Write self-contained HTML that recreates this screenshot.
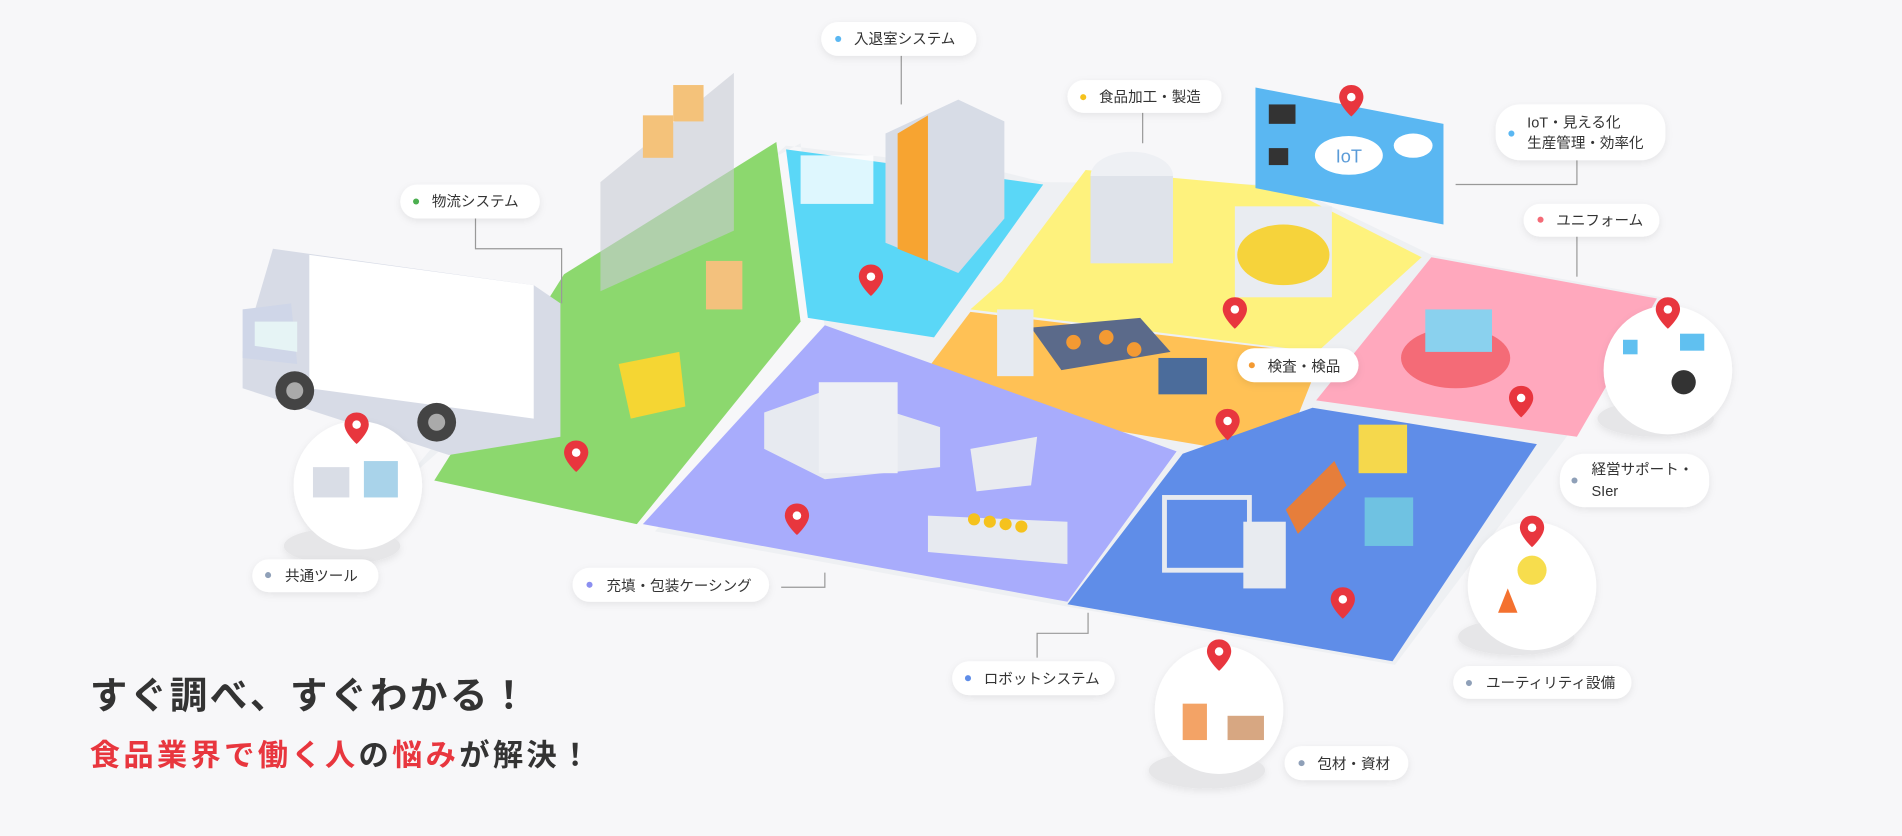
<!DOCTYPE html>
<html><head><meta charset="utf-8"><style>
html,body{margin:0;padding:0;background:#f7f7f9;}
svg{display:block}
text{font-family:"Liberation Sans","Noto Sans CJK JP",sans-serif;}
</style></head><body>
<svg width="1902" height="836" viewBox="0 0 1568 689" xmlns="http://www.w3.org/2000/svg">
<defs>
<filter id="sh" x="-20%" y="-30%" width="140%" height="160%"><feDropShadow dx="0" dy="2" stdDeviation="3" flood-color="#000" flood-opacity="0.08"/></filter>
<g id="pin"><path d="M0,0 c-6,0 -10,4.5 -10,10 c0,7 10,16 10,16 c0,0 10,-9 10,-16 c0,-5.5 -4,-10 -10,-10z" fill="#e8363e"/><circle cx="0" cy="10" r="3.5" fill="#fff"/></g>
</defs>
<rect width="1568" height="689" fill="#f7f7f9"/>
<polygon points="330,400 490,210 660,118 680,270 540,438 880,500 1150,548 1290,362 1370,245 1180,210 1060,152 860,150 820,140 648,120" fill="#eef0f3"/>
<polygon points="358,396 465,226 640,117 660,265 525,432" fill="#8cd86e"/>
<polygon points="648,123 860,152 770,278 666,262" fill="#5ad7f7"/>
<polygon points="826,232 895,140 1060,155 1172,212 1086,290 800,255" fill="#fef27d"/>
<polygon points="748,326 800,257 1090,292 1056,378" fill="#ffc155"/>
<polygon points="1085,330 1180,212 1366,246 1300,360" fill="#ffa8bd"/>
<polygon points="530,432 680,268 970,372 880,496" fill="#a8acfc"/>
<polygon points="880,498 975,374 1082,336 1267,366 1148,545" fill="#5f8de8"/>
<polygon points="1035,72 1190,102 1190,185 1035,155" fill="#5ab7f2"/>
<ellipse cx="1112" cy="128" rx="28" ry="16" fill="#fff"/>
<text x="1112" y="134" font-size="15" fill="#5a9bd8" text-anchor="middle">IoT</text>
<rect x="1046" y="86" width="22" height="16" fill="#333"/><rect x="1046" y="122" width="16" height="14" fill="#333"/>
<ellipse cx="1165" cy="120" rx="16" ry="10" fill="#fff"/>
<polygon points="200,290 225,205 440,235 462,250 462,360 370,375 200,320" fill="#d7dbe6"/>
<polygon points="255,210 440,235 440,345 255,320" fill="#fff"/>
<polygon points="200,255 240,250 245,300 200,295" fill="#cfd6e8"/>
<polygon points="210,265 245,265 245,290 210,285" fill="#e6f4f5"/>
<circle cx="243" cy="322" r="16" fill="#444"/><circle cx="243" cy="322" r="7" fill="#aaa"/>
<circle cx="360" cy="348" r="16" fill="#444"/><circle cx="360" cy="348" r="7" fill="#aaa"/>
<polygon points="495,150 605,60 605,190 495,240" fill="#c8cbd3" opacity=".6"/>
<rect x="530" y="95" width="25" height="35" fill="#f4c27a"/><rect x="555" y="70" width="25" height="30" fill="#f4c27a"/>
<polygon points="510,300 560,290 565,335 520,345" fill="#f5d633"/>
<rect x="582" y="215" width="30" height="40" fill="#f3c17d"/>
<polygon points="730,110 790,82 828,100 828,180 790,225 730,200" fill="#d7dce6"/>
<polygon points="740,110 765,95 765,215 740,205" fill="#f7a431"/>
<rect x="660" y="128" width="60" height="40" fill="#fff" opacity=".8"/>
<ellipse cx="933" cy="145" rx="34" ry="20" fill="#eef0f4"/>
<rect x="899" y="145" width="68" height="72" fill="#dfe3ea"/>
<rect x="1018" y="170" width="80" height="75" fill="#e9ecf1"/>
<ellipse cx="1058" cy="210" rx="38" ry="25" fill="#f6d33b"/>
<polygon points="850,270 940,262 965,290 875,305" fill="#5b6a8a"/>
<circle cx="885" cy="282" r="6" fill="#f39a33"/><circle cx="912" cy="278" r="6" fill="#f39a33"/><circle cx="935" cy="288" r="6" fill="#f39a33"/>
<rect x="822" y="255" width="30" height="55" fill="#e6eaf0"/>
<rect x="955" y="295" width="40" height="30" fill="#4b6c9b"/>
<polygon points="630,340 680,322 775,352 775,385 680,395 630,370" fill="#e7eaf0"/>
<rect x="675" y="315" width="65" height="75" fill="#eef0f4"/>
<polygon points="765,425 880,430 880,465 765,455" fill="#e7eaf0"/>
<polygon points="800,370 855,360 850,400 805,405" fill="#e9ebf0"/>
<circle cx="803" cy="428" r="5" fill="#f5c21d"/><circle cx="816" cy="430" r="5" fill="#f5c21d"/><circle cx="829" cy="432" r="5" fill="#f5c21d"/><circle cx="842" cy="434" r="5" fill="#f5c21d"/>
<rect x="960" y="410" width="70" height="60" fill="none" stroke="#e7eaf0" stroke-width="4"/>
<rect x="1025" y="430" width="35" height="55" fill="#e8ebf0"/>
<polygon points="1060,420 1100,380 1110,400 1070,440" fill="#e67e3b"/>
<rect x="1120" y="350" width="40" height="40" fill="#f5d84c"/>
<rect x="1125" y="410" width="40" height="40" fill="#6fc2e2"/>
<ellipse cx="1200" cy="295" rx="45" ry="25" fill="#f46b77"/>
<rect x="1175" y="255" width="55" height="35" fill="#8ad1ee"/>
<g filter="url(#sh)">
<ellipse cx="282" cy="450" rx="48" ry="15" fill="#e6e6e8"/>
<circle cx="295" cy="400" r="53" fill="#fff"/>
<ellipse cx="1365" cy="345" rx="48" ry="15" fill="#e6e6e8"/>
<circle cx="1375" cy="305" r="53" fill="#fff"/>
<ellipse cx="1250" cy="525" rx="48" ry="15" fill="#e6e6e8"/>
<circle cx="1263" cy="483" r="53" fill="#fff"/>
<ellipse cx="995" cy="635" rx="48" ry="15" fill="#e6e6e8"/>
<circle cx="1005" cy="585" r="53" fill="#fff"/>
</g>
<rect x="258" y="385" width="30" height="25" fill="#d9dde6"/><rect x="300" y="380" width="28" height="30" fill="#a9d3ea"/>
<circle cx="1263" cy="470" r="12" fill="#f7dd4d"/><path d="M1235,505 l8,-20 l8,20z" fill="#f4712f"/>
<rect x="975" y="580" width="20" height="30" fill="#f3a366"/><rect x="1012" y="590" width="30" height="20" fill="#d7a782"/>
<circle cx="1388" cy="315" r="10" fill="#333"/><rect x="1338" y="280" width="12" height="12" fill="#60c0f0"/><rect x="1385" y="275" width="20" height="14" fill="#60c0f0"/>
<use href="#pin" x="1114" y="70"/><use href="#pin" x="718" y="218"/><use href="#pin" x="1018" y="245"/>
<use href="#pin" x="1375" y="245"/><use href="#pin" x="1254" y="318"/><use href="#pin" x="1012" y="337"/>
<use href="#pin" x="475" y="363"/><use href="#pin" x="294" y="340"/><use href="#pin" x="657" y="415"/>
<use href="#pin" x="1107" y="484"/><use href="#pin" x="1263" y="425"/><use href="#pin" x="1005" y="527"/>
<g stroke="#999" stroke-width="1" fill="none">
<path d="M743,45 V86"/><path d="M392,180 V205 H463 V250"/><path d="M942,92 V118"/>
<path d="M1300,132 V152 H1200"/><path d="M1300,195 V228"/><path d="M644,484 H680 V472"/>
<path d="M855,542 V522 H897 V505"/>
</g>
<g filter="url(#sh)" fill="#fff">
<rect x="677" y="18" width="128" height="28" rx="14"/>
<rect x="330" y="152" width="115" height="28" rx="14"/>
<rect x="880" y="66" width="127" height="27" rx="13.5"/>
<rect x="1233" y="86" width="140" height="46" rx="20"/>
<rect x="1256" y="168" width="112" height="27" rx="13.5"/>
<rect x="1020" y="287" width="100" height="28" rx="14"/>
<rect x="1286" y="374" width="123" height="44" rx="20"/>
<rect x="208" y="461" width="104" height="27" rx="13.5"/>
<rect x="472" y="468" width="162" height="28" rx="14"/>
<rect x="785" y="545" width="134" height="28" rx="14"/>
<rect x="1198" y="549" width="147" height="27" rx="13.5"/>
<rect x="1059" y="615" width="102" height="28" rx="14"/>
</g>
<g font-size="12" fill="#333">
<circle cx="691" cy="32" r="2.5" fill="#5ab7f2"/><text x="704" y="36">入退室システム</text>
<circle cx="343" cy="166" r="2.5" fill="#4caf50"/><text x="356" y="170">物流システム</text>
<circle cx="893" cy="80" r="2.5" fill="#f5c21d"/><text x="906" y="84">食品加工・製造</text>
<circle cx="1246" cy="110" r="2.5" fill="#5ab7f2"/><text x="1259" y="105">IoT・見える化</text><text x="1259" y="122">生産管理・効率化</text>
<circle cx="1270" cy="181" r="2.5" fill="#f46b77"/><text x="1283" y="186">ユニフォーム</text>
<circle cx="1032" cy="301" r="2.5" fill="#f39a33"/><text x="1045" y="306">検査・検品</text>
<circle cx="1298" cy="396" r="2.5" fill="#8fa0b8"/><text x="1312" y="391">経営サポート・</text><text x="1312" y="409">SIer</text>
<circle cx="221" cy="474" r="2.5" fill="#8fa0b8"/><text x="235" y="479">共通ツール</text>
<circle cx="486" cy="482" r="2.5" fill="#8b8ff0"/><text x="500" y="487">充填・包装ケーシング</text>
<circle cx="798" cy="559" r="2.5" fill="#5f8de8"/><text x="811" y="564">ロボットシステム</text>
<circle cx="1211" cy="563" r="2.5" fill="#8fa0b8"/><text x="1225" y="567">ユーティリティ設備</text>
<circle cx="1073" cy="629" r="2.5" fill="#8fa0b8"/><text x="1086" y="634">包材・資材</text>
</g>
<text x="74" y="584" font-size="31" font-weight="bold" fill="#333" letter-spacing="2">すぐ調べ、すぐわかる！</text>
<text x="74" y="631" font-size="25" font-weight="bold" letter-spacing="2.7"><tspan fill="#e8363e">食品業界で働く人</tspan><tspan fill="#333">の</tspan><tspan fill="#e8363e">悩み</tspan><tspan fill="#333">が解決！</tspan></text>
</svg>
</body></html>
